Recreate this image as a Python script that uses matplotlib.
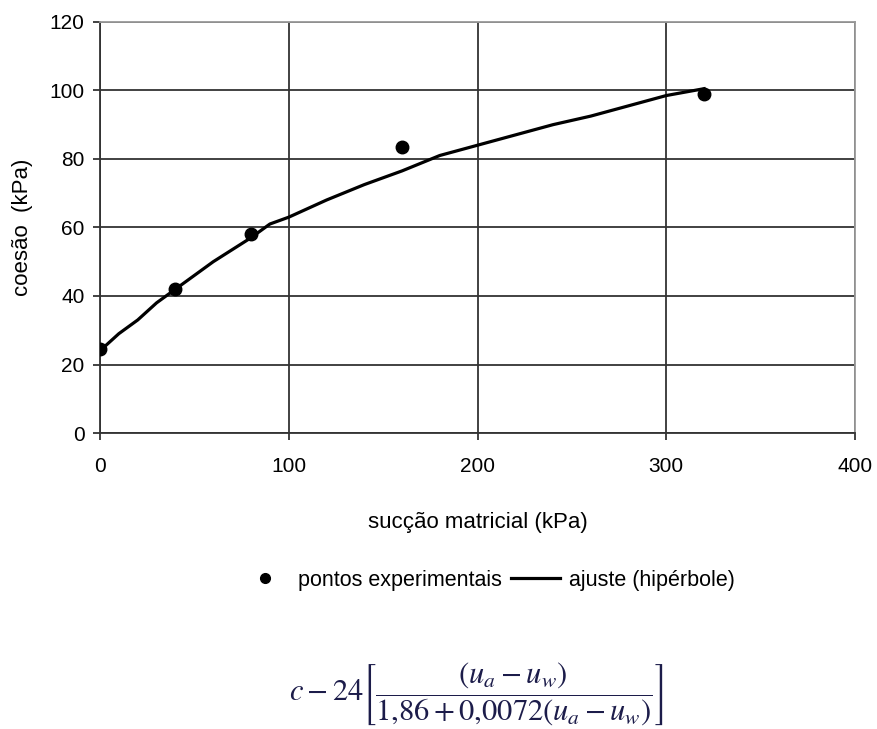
import matplotlib.pyplot as plt
import numpy as np

plt.rcParams['font.family'] = ['Liberation Sans', 'DejaVu Sans']
plt.rcParams['mathtext.fontset'] = 'stix'

# experimental points
suc_pts = [0, 40, 80, 160, 320]
coe_pts = [24.5, 42, 58, 83.5, 99]

# fitted curve (hyperbola)
suc_fit = [0, 10, 20, 30, 40, 50, 60, 70, 80, 90, 100, 120, 140, 160, 180,
           200, 220, 240, 260, 280, 300, 320]
coe_fit = [24, 29, 33, 38, 42, 46, 50, 53.5, 57, 61, 63, 68, 72.5, 76.5, 81,
           84, 87, 90, 92.5, 95.5, 98.5, 100.5]

xticks = [0, 100, 200, 300, 400]
yticks = [0, 20, 40, 60, 80, 100, 120]

fig = plt.figure(figsize=(8.77, 7.29), dpi=100)
ax = fig.add_axes([0.114, 0.406, 0.861, 0.564])

ax.plot(suc_fit, coe_fit, color='black', lw=2.3, zorder=3,
        label='ajuste (hipérbole)')
ax.plot(suc_pts, coe_pts, 'o', color='black', ms=9, zorder=4,
        label='pontos experimentais')

ax.set_xlim(0, 400)
ax.set_ylim(0, 120)
ax.set_xticks(xticks)
ax.set_yticks(yticks)
ax.grid(True, color='#333333', lw=1.3)
ax.set_axisbelow(True)
ax.tick_params(direction='out', length=5, width=1.3, color='#333333',
               labelsize=15, pad=6)
ax.tick_params(axis='x', pad=12)
for s in ['left', 'bottom']:
    ax.spines[s].set_color('#333333')
    ax.spines[s].set_linewidth(1.3)
for s in ['top', 'right']:
    ax.spines[s].set_color('#999999')
    ax.spines[s].set_linewidth(1.3)

ax.set_xlabel('sucção matricial (kPa)', fontsize=16, labelpad=26)
ax.set_ylabel('coesão  (kPa)', fontsize=16, labelpad=12)

h, l = ax.get_legend_handles_labels()
leg = fig.legend([h[1], h[0]], [l[1], l[0]], loc='center', ncol=2,
                 bbox_to_anchor=(0.556, 0.204), frameon=False, fontsize=15.5,
                 handlelength=2.3, columnspacing=0.4, handletextpad=0.4)
leg.legend_handles[0].set_markersize(7)

fig.text(0.543, 0.047,
         r'$c - 24\left[\dfrac{(u_a - u_w)}{1{,}86 + 0{,}0072(u_a - u_w)}\right]$',
         ha='center', va='center', fontsize=22, color='#1c1c4a')

fig.savefig('out.png', dpi=100, facecolor='white')
